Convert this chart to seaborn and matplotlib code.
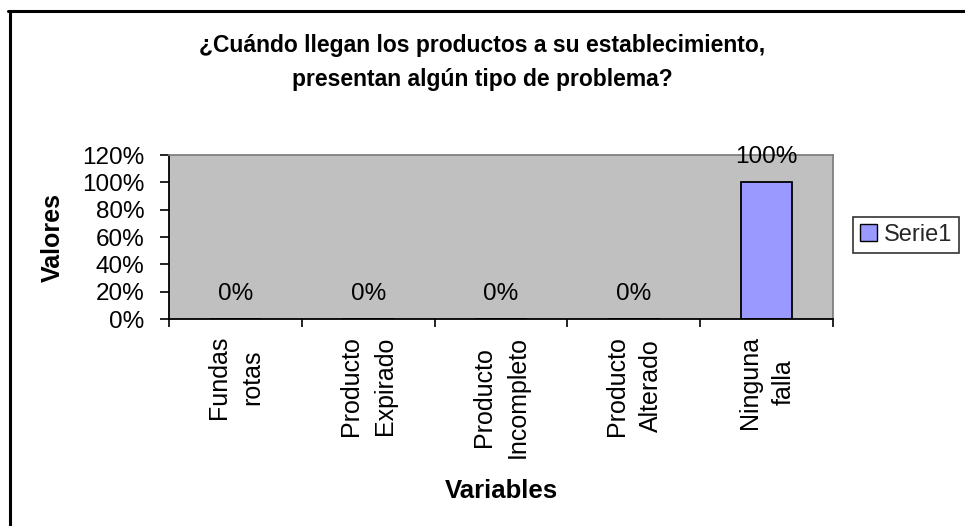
import matplotlib
matplotlib.use("Agg")
import matplotlib.pyplot as plt
import matplotlib.ticker as mticker
from matplotlib.lines import Line2D
import seaborn as sns
import pandas as pd

# ---- data ----
categories = ["Fundas\nrotas", "Producto\nExpirado", "Producto\nIncompleto",
              "Producto\nAlterado", "Ninguna\nfalla"]
values = [0.0, 0.0, 0.0, 0.0, 1.0]
value_labels = ["0%", "0%", "0%", "0%", "100%"]
series_name = "Serie1"
title_lines = ["¿Cuándo llegan los productos a su establecimiento,",
               "presentan algún tipo de problema?"]
y_ticks = [0.0, 0.2, 0.4, 0.6, 0.8, 1.0, 1.2]

df = pd.DataFrame({"Variables": categories, "Valores": values,
                   "Serie": [series_name] * len(categories)})

sns.set_theme(style="white")
plt.rcParams["font.family"] = ["Liberation Sans", "DejaVu Sans"]

W, H = 965, 526
fig = plt.figure(figsize=(W / 100, H / 100), dpi=100)
fig.patch.set_facecolor("white")

ax = fig.add_axes([169 / W, 1 - 319 / H, (833 - 169) / W, (319 - 155) / H])
ax.set_facecolor("#C0C0C0")

sns.barplot(data=df, x="Variables", y="Valores", hue="Serie",
            palette=["#9999FF"], saturation=1, edgecolor="black", linewidth=1.3,
            width=0.39, ax=ax, legend=True)

ax.set_xlim(-0.5, len(categories) - 0.5)
ax.set_ylim(0, 1.2)
ax.set_yticks(y_ticks)
ax.yaxis.set_major_formatter(mticker.FuncFormatter(lambda v, p: f"{v*100:.0f}%"))

# category boundary ticks (major) and labels at centres (minor)
ax.set_xticks([i - 0.5 for i in range(len(categories) + 1)])
ax.set_xticklabels([""] * (len(categories) + 1))
ax.set_xticks(range(len(categories)), minor=True)
ax.set_xticklabels(categories, minor=True, rotation=90, ha="center", va="top",
                   multialignment="center", linespacing=1.5, fontsize=18,
                   color="black")
ax.tick_params(axis="x", which="major", direction="out", length=6, width=1.2,
               color="black", bottom=True)
ax.tick_params(axis="x", which="minor", length=0, pad=12, bottom=True)
ax.tick_params(axis="y", direction="out", length=6.5, width=1.2, color="black",
               pad=11, labelsize=17.5, labelcolor="black", left=True)

for side in ["left", "bottom"]:
    ax.spines[side].set_color("black")
    ax.spines[side].set_linewidth(1.3)
for side in ["top", "right"]:
    ax.spines[side].set_color("#808080")
    ax.spines[side].set_linewidth(1.3)
    ax.spines[side].set_visible(True)

ax.set_xlabel("")
ax.set_ylabel("")

# data labels
for cont in ax.containers:
    ax.bar_label(cont, labels=value_labels, padding=10, fontsize=17.5, color="black")

# legend
leg = ax.legend(loc="center left", bbox_to_anchor=(853 / W, 1 - 235 / H),
                bbox_transform=fig.transFigure, frameon=True, fancybox=False,
                edgecolor="black", fontsize=17, handlelength=0.7,
                handleheight=0.7, handletextpad=0.3, borderpad=0.3,
                borderaxespad=0)
leg.get_frame().set_linewidth(1.2)
for h in leg.legend_handles:
    h.set_edgecolor("black")
    h.set_linewidth(1.0)

# titles
fig.text(482 / W, 1 - 52 / H, title_lines[0], ha="center", va="baseline",
         fontsize=16.5, fontweight="bold", color="black")
fig.text(482 / W, 1 - 86 / H, title_lines[1], ha="center", va="baseline",
         fontsize=16.5, fontweight="bold", color="black")
fig.text(501 / W, 1 - 498 / H, "Variables", ha="center", va="baseline",
         fontsize=18.5, fontweight="bold", color="black")
fig.text(53 / W, 1 - 237 / H, "Valores", ha="center", va="center", rotation=90,
         fontsize=18, fontweight="bold", color="black")

# figure border (left and top only, as in the reference crop)
fig.add_artist(Line2D([9.5 / W, 9.5 / W], [0, 1 - 10.5 / H],
                      transform=fig.transFigure, color="black", linewidth=2.2))
fig.add_artist(Line2D([8 / W, 1], [1 - 10.5 / H, 1 - 10.5 / H],
                      transform=fig.transFigure, color="black", linewidth=2.2))

fig.savefig("out.png", dpi=100)
